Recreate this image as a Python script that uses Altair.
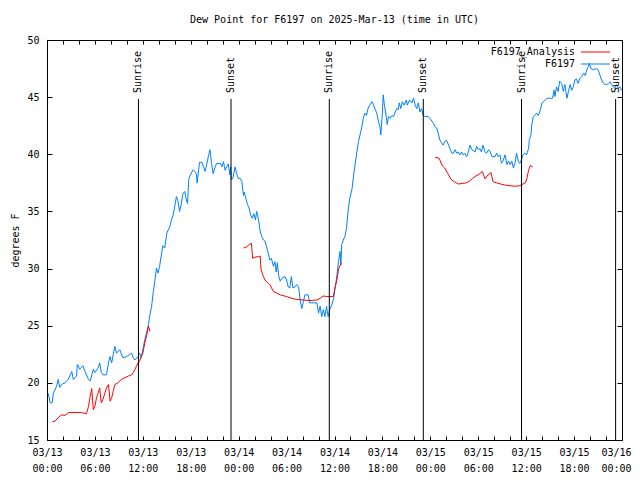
import altair as alt
import pandas as pd

# ---------------- data (hours after 2025-03-13 00:00 UTC, degrees F) ----------------
blue_hours = [
    0.15, 0.4, 0.65, 0.8, 1.2, 1.4, 1.6, 1.8, 2.25, 2.65, 3.1, 3.3, 3.7, 3.8, 4.1, 4.5, 4.75, 5.2, 5.4, 5.8,
    6.0, 6.4, 6.6, 6.8, 7.0, 7.45, 7.7, 7.9, 8.1, 8.3, 8.5, 8.7, 9.1, 9.5, 9.95, 10.4, 10.6, 10.8, 11.0, 11.4,
    11.6, 11.8, 12.0, 12.25, 12.5, 12.7, 12.9, 13.1, 13.3, 13.5, 13.7, 13.9, 14.1, 14.3, 14.5, 14.75, 15.0, 15.2, 15.4, 15.6,
    15.8, 16.0, 16.2, 16.4, 16.6, 16.8, 17.0, 17.25, 17.45, 17.6, 17.75, 17.95, 18.3, 18.5,
    18.7, 18.8, 19.1, 19.4, 19.6, 19.8, 20.0, 20.2, 20.4, 20.5, 20.6, 20.8, 21.0, 21.25, 21.7, 21.9, 22.1, 22.3, 22.5, 22.7,
    22.9, 23.0, 23.1, 23.3, 23.55, 23.75, 23.95, 24.2, 24.4, 24.6, 24.7, 24.9, 25.1, 25.3, 25.5, 25.7, 25.9, 26.1, 26.25, 26.5,
    26.7, 26.9, 27.1, 27.3, 27.5, 27.7, 27.9, 28.1, 28.35, 28.55, 28.7, 28.85, 29.0, 29.2, 29.4, 29.8, 30.0, 30.2, 30.4, 30.6,
    30.8, 31.05, 31.25, 31.5, 31.7, 31.9, 32.1, 32.3, 32.7, 32.9, 33.35, 33.8, 34.0, 34.2, 34.4, 34.6, 34.8, 35.0, 35.2, 35.4,
    35.65, 35.9,
    36.1, 36.3, 36.5, 36.7, 36.8, 36.9, 37.1, 37.3, 37.5, 37.7, 37.9, 38.2, 38.4, 38.6, 38.8, 39.0, 39.2, 39.4, 39.6, 39.8,
    40.0, 40.2, 40.4, 40.7, 40.9, 41.1, 41.3, 41.5, 41.7, 41.8, 42.0, 42.1, 42.25, 42.4, 42.6, 42.75, 43.0, 43.2, 43.4, 43.6,
    43.8, 44.0, 44.1, 44.3, 44.5, 44.7, 45.0, 45.1, 45.4, 45.7, 45.9, 46.1, 46.3, 46.5, 46.7, 46.9, 47.1, 47.35, 47.75, 47.95,
    48.4, 48.6, 48.8, 49.0, 49.2, 49.4, 49.6, 49.8, 50.0, 50.3, 50.5, 50.7, 50.9, 51.1, 51.3, 51.5, 51.7, 51.9, 52.1, 52.3,
    52.55, 52.75,
    52.97, 53.2, 53.6, 53.8, 54.0, 54.2, 54.4, 54.6, 54.85, 55.05, 55.3, 55.5, 55.7, 56.1, 56.3, 56.5, 56.7, 56.9, 57.1, 57.35,
    57.6, 57.8, 58.0, 58.2, 58.4, 58.6, 58.8, 59.0, 59.2, 59.4, 59.6, 59.85, 60.05, 60.3, 60.4, 60.6, 60.7, 60.9, 61.1, 61.3,
    61.5, 61.7, 62.0, 62.2, 62.6, 63.0, 63.3, 63.5, 63.6, 63.8, 64.0, 64.2, 64.45, 64.65, 64.85, 65.1, 65.3, 65.5, 65.7, 65.9,
    66.1, 66.3, 66.5, 66.7, 66.95, 67.2, 67.4, 67.6, 67.8, 67.9, 68.1, 68.4, 68.8, 69.0, 69.25, 69.45, 69.7, 69.9, 70.1, 70.3,
    70.5, 70.7, 70.9, 71.1, 71.3, 71.55, 71.75, 71.95,
]
blue_values = [
    19.1, 18.25, 18.25, 19.1, 19.7, 20.3, 19.6, 19.85, 20.0, 20.3, 21.0, 20.3, 20.6, 21.6, 21.2, 21.5, 21.0, 20.3, 20.15, 21.2,
    20.9, 21.3, 21.75, 20.9, 20.7, 20.7, 21.75, 22.3, 21.75, 22.5, 23.2, 22.6, 22.9, 22.2, 22.3, 22.5, 22.6, 22.2, 22.0, 22.3,
    22.6, 22.2, 22.9, 23.8, 24.5, 25.1, 26.0, 26.7, 27.9, 28.9, 30.05, 29.6, 30.2, 31.1, 32.0, 31.8, 33.1, 33.4, 33.7, 34.3,
    34.7, 35.45, 36.3, 35.9, 35.0, 35.6, 36.5, 36.75, 36.0, 35.7, 37.8, 38.2, 38.65, 38.5,
    38.3, 37.5, 39.3, 39.3, 38.9, 38.5, 39.1, 39.8, 40.4, 39.9, 39.2, 38.3, 38.8, 39.2, 39.2, 38.9, 39.35, 38.6, 38.9, 39.15,
    38.2, 38.9, 37.75, 38.0, 38.9, 38.3, 37.9, 37.9, 37.6, 36.4, 36.7, 36.15, 35.6, 35.3, 34.7, 34.4, 34.8, 34.25, 35.0, 34.25,
    33.2, 32.8, 32.5, 32.4, 31.9, 31.35, 30.75, 30.9, 30.2, 30.6, 29.7, 30.5, 29.4, 28.9, 29.15, 29.3, 29.0, 28.4, 28.3, 29.3,
    28.3, 28.4, 28.6, 28.4, 27.25, 26.5, 27.1, 27.7, 27.7, 27.0, 27.0, 27.0, 26.1, 26.7, 25.8, 26.4, 25.8, 26.7, 25.8, 26.4,
    26.8, 27.4,
    28.4, 29.4, 30.6, 31.5, 30.3, 32.1, 32.5, 32.8, 33.5, 35.0, 36.1, 37.0, 38.2, 39.2, 40.2, 41.1, 41.7, 42.3, 43.15, 43.6,
    43.4, 44.0, 44.3, 44.6, 44.3, 43.9, 43.6, 42.85, 42.4, 41.7, 43.7, 45.2, 44.3, 43.7, 42.6, 43.3, 43.15, 43.4, 43.3, 43.7,
    44.0, 43.9, 44.5, 44.0, 44.6, 44.3, 44.75, 44.3, 44.75, 44.5, 44.9, 44.3, 44.0, 44.5, 43.7, 44.0, 43.4, 43.3, 43.3, 43.15,
    42.7, 42.4, 42.3, 41.8, 41.25, 41.0, 40.8, 41.1, 41.25, 40.8, 40.4, 40.1, 40.1, 40.4, 40.1, 40.2, 39.95, 40.2, 39.95, 40.1,
    39.8, 40.2,
    40.8, 40.4, 40.2, 40.7, 40.4, 40.5, 40.2, 40.8, 40.2, 40.1, 40.4, 40.2, 39.8, 39.8, 40.1, 39.8, 39.95, 39.2, 39.4, 39.95,
    39.1, 39.4, 39.1, 39.4, 38.8, 39.2, 40.1, 39.4, 39.2, 39.5, 39.95, 40.1, 39.95, 40.5, 41.3, 41.7, 42.6, 43.3, 43.4, 43.6,
    43.4, 43.7, 44.5, 44.6, 44.9, 44.9, 44.9, 45.6, 45.05, 45.9, 45.5, 46.4, 46.2, 45.5, 46.1, 44.9, 45.5, 46.1, 45.6, 45.9,
    46.5, 46.6, 46.2, 46.6, 46.8, 47.1, 46.9, 47.4, 47.7, 47.96, 47.5, 47.4, 47.5, 47.4, 46.9, 46.5, 46.2, 46.1, 46.1, 46.2,
    46.35, 46.1, 45.9, 45.8, 46.1, 45.8, 45.9, 45.6,
]

red1_hours = [0.67, 1.0, 1.4, 1.8, 2.25, 2.67, 4.3, 4.95, 5.2, 5.4, 5.6, 5.8, 6.0, 6.2, 6.4, 6.6, 6.8, 7.0, 7.25, 7.45,
              7.7, 7.9, 8.1, 8.3, 8.5, 8.9, 9.3, 9.75, 10.2, 10.6, 10.8, 11.0, 11.2, 11.4, 11.6, 11.8, 12.0, 12.25, 12.5, 12.7, 12.9]
red1_values = [16.6, 16.65, 16.95, 17.2, 17.15, 17.4, 17.4, 17.3, 17.95, 18.8, 19.5, 17.65, 17.95, 18.7, 19.1, 19.55, 18.25, 18.55, 19.1, 19.55,
               19.85, 18.4, 18.7, 19.3, 19.85, 20.0, 20.3, 20.45, 20.6, 20.7, 20.9, 21.15, 21.45, 21.75, 21.9, 22.3, 22.6, 23.5, 24.2, 24.95, 24.5]
red2_hours = [24.6, 25.0, 25.4, 25.6, 25.75, 26.05, 26.5, 26.7, 26.8, 27.1, 27.3, 27.7, 27.9, 28.35, 28.8, 29.2, 30.0, 30.6, 31.25, 32.1,
              32.9, 33.8, 34.2, 34.6, 35.0, 35.85, 36.05, 36.3, 36.5, 36.7, 36.9]
red2_values = [31.8, 31.9, 32.15, 32.2, 30.9, 31.0, 31.05, 31.1, 29.9, 29.3, 29.0, 28.7, 28.6, 28.0, 27.85, 27.7, 27.55, 27.4, 27.3, 27.25,
               27.2, 27.25, 27.4, 27.6, 27.55, 27.55, 28.3, 29.0, 29.9, 30.3, 30.5]
red3_hours = [48.6, 49.1, 49.5, 49.8, 50.2, 50.6, 51.0, 51.5, 52.0, 52.5, 52.9, 53.3, 53.7, 54.1, 54.5, 54.85, 55.1, 55.6, 55.85, 56.3,
              56.8, 57.4, 58.0, 58.6, 59.2, 59.6, 59.9, 60.1, 60.3, 60.5, 60.8]
red3_values = [39.75, 39.65, 39.0, 38.8, 38.3, 37.8, 37.6, 37.4, 37.45, 37.5, 37.65, 37.9, 38.1, 38.25, 38.5, 37.85, 38.1, 38.4, 37.6, 37.5,
               37.4, 37.3, 37.25, 37.2, 37.25, 37.4, 37.5, 37.9, 38.6, 39.0, 38.9]

event_hours = [11.45, 23.04, 35.35, 47.12, 59.42, 71.2]
event_labels = ["Sunrise", "Sunset", "Sunrise", "Sunset", "Sunrise", "Sunset"]

series_names = ["F6197_Analysis", "F6197"]
series_colors = ["#ff0000", "#0080ff"]
y_ticks = [15, 20, 25, 30, 35, 40, 45, 50]

# ---------------- build tables ----------------
base = pd.Timestamp("2025-03-13T00:00:00Z")


def iso(h):
    return (base + pd.to_timedelta(h, unit="h")).strftime("%Y-%m-%dT%H:%M:%SZ")


rows = []
for h, v in zip(blue_hours, blue_values):
    rows.append({"time": iso(h), "value": v, "series": "F6197", "seg": "b"})
for name, hs, vs in [("r1", red1_hours, red1_values), ("r2", red2_hours, red2_values), ("r3", red3_hours, red3_values)]:
    for h, v in zip(hs, vs):
        rows.append({"time": iso(h), "value": v, "series": "F6197_Analysis", "seg": name})
df = pd.DataFrame(rows)

events = pd.DataFrame({"time": [iso(h) for h in event_hours], "label": event_labels})

FONT = "DejaVu Sans Mono"
W, H = 575, 400

x_start = alt.DateTime(year=2025, month=3, date=13, hours=0, utc=True)
x_end = alt.DateTime(year=2025, month=3, date=16, hours=0, utc=True)
x_ticks = [alt.DateTime(year=2025, month=3, date=13 + (h // 24), hours=h % 24, utc=True) for h in range(0, 73, 2)]

x_scale = alt.Scale(type="utc", domain=[x_start, x_end], nice=False)
y_scale = alt.Scale(domain=[15, 50], nice=False, zero=False)

label_expr = ("utchours(datum.value) % 6 == 0 ? "
              "[utcFormat(datum.value, '%m/%d'), utcFormat(datum.value, '%H:%M')] : ''")

lines = alt.Chart(df).mark_line(strokeWidth=1).encode(
    x=alt.X("time:T", scale=x_scale,
            axis=alt.Axis(values=x_ticks, labelExpr=label_expr, ticks=False, tickSize=0, domain=False, grid=False,
                          title=None, labelOverlap=False, labelFlush=False, labelBound=False,
                          labelPadding=7, labelLineHeight=16, labelBaseline="top", labelAlign="center",
                          labelOffset={"condition": {"test": "utcdate(datum.value) == 16", "value": -6}, "value": 0})),
    y=alt.Y("value:Q", scale=y_scale,
            axis=alt.Axis(values=y_ticks, ticks=False, tickSize=0, domain=False, grid=False, title="degrees F",
                          labelPadding=8, titlePadding=6)),
    color=alt.Color("series:N", scale=alt.Scale(domain=series_names, range=series_colors), legend=None),
    detail="seg:N",
)

# inward tick marks on all four sides
ticks_a = alt.Chart(df).mark_point(opacity=0).encode(
    x=alt.X("time:T", scale=x_scale,
            axis=alt.Axis(orient="top", offset=-H, values=x_ticks, labels=False, domain=False, grid=False,
                          tickSize=4, tickColor="black", title=None)),
    y=alt.Y("value:Q", scale=y_scale,
            axis=alt.Axis(orient="right", offset=-W, values=y_ticks, labels=False, domain=False, grid=False,
                          tickSize=5, tickColor="black", title=None)),
)
ticks_b = alt.Chart(df).mark_point(opacity=0).encode(
    x=alt.X("time:T", scale=x_scale,
            axis=alt.Axis(orient="bottom", offset=-H, values=x_ticks, labels=False, domain=False, grid=False,
                          tickSize=4, tickColor="black", title=None)),
    y=alt.Y("value:Q", scale=y_scale,
            axis=alt.Axis(orient="left", offset=-W, values=y_ticks, labels=False, domain=False, grid=False,
                          tickSize=5, tickColor="black", title=None)),
)

event_rules = alt.Chart(events).mark_rule(color="black", strokeWidth=1).encode(
    x=alt.X("time:T", scale=x_scale, axis=None),
    y=alt.value(59),
    y2=alt.value(H),
)
event_text = alt.Chart(events).mark_text(angle=270, align="left", baseline="middle", font=FONT, fontSize=10,
                                         color="black").encode(
    x=alt.X("time:T", scale=x_scale, axis=None),
    y=alt.value(53),
    text="label:N",
)

one = pd.DataFrame({"k": [0]})
leg_t1 = alt.Chart(one).mark_text(text=series_names[0], align="right", baseline="middle", font=FONT, fontSize=10,
                                  color="black").encode(x=alt.value(528), y=alt.value(12))
leg_t2 = alt.Chart(one).mark_text(text=series_names[1], align="right", baseline="middle", font=FONT, fontSize=10,
                                  color="black").encode(x=alt.value(528), y=alt.value(24))
leg_l1 = alt.Chart(one).mark_rule(color=series_colors[0], strokeWidth=1).encode(
    x=alt.value(534), x2=alt.value(563), y=alt.value(12))
leg_l2 = alt.Chart(one).mark_rule(color=series_colors[1], strokeWidth=1).encode(
    x=alt.value(534), x2=alt.value(563), y=alt.value(24))

chart = alt.layer(
    lines, ticks_a, ticks_b, event_rules, event_text, leg_t1, leg_t2, leg_l1, leg_l2
).resolve_axis(
    x="independent", y="independent"
).properties(
    width=W, height=H,
    title=alt.TitleParams("Dew Point for F6197 on 2025-Mar-13 (time in UTC)", font=FONT, fontSize=10,
                          fontWeight="normal", color="black", anchor="middle", offset=10),
    autosize=alt.AutoSizeParams(type="none"),
    padding={"left": 39, "top": 32, "right": 10, "bottom": 32},
).configure_view(
    stroke="black", strokeWidth=1
).configure_axis(
    labelFont=FONT, labelFontSize=10, labelColor="black",
    titleFont=FONT, titleFontSize=10, titleColor="black", titleFontWeight="normal",
)

chart.save("out.html", embed_options={"renderer": "svg", "actions": False})
